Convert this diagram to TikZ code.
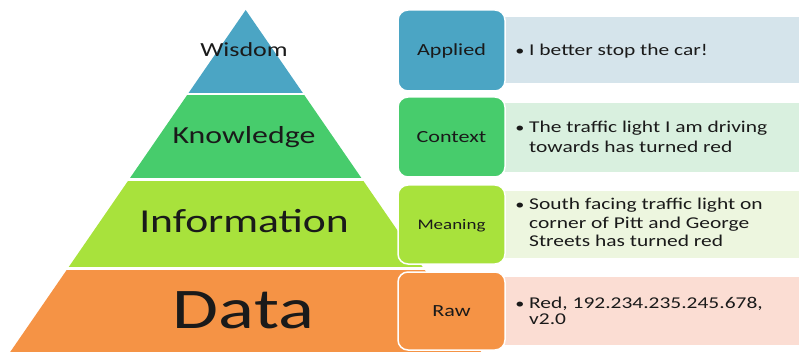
\documentclass[tikz,border=0pt]{standalone}
\usepackage{fontspec}
\setmainfont{Carlito}[FakeStretch=1.3]
\definecolor{cWis}{HTML}{4BA5C4}
\definecolor{cKno}{HTML}{47CC6C}
\definecolor{cInf}{HTML}{A8E23C}
\definecolor{cDat}{HTML}{F59345}
\definecolor{cWisL}{HTML}{D5E4EB}
\definecolor{cKnoL}{HTML}{D9F0DF}
\definecolor{cInfL}{HTML}{EDF6DF}
\definecolor{cDatL}{HTML}{FBDDD3}
\definecolor{ink}{HTML}{1A1A1A}
\begin{document}
\begin{tikzpicture}[x=1pt,y=-1pt,
  level/.style={inner sep=0pt,anchor=base,text=ink},
  tbox/.style={inner sep=0pt,anchor=north west,minimum width=299pt},
  lbox/.style={draw=white,line width=1.5pt,rounded corners=10pt,minimum width=107pt,
    inner sep=0pt,text height=10.5pt,text depth=0pt,text=ink,
    font=\fontsize{17}{20}\selectfont},
  bul/.style={inner sep=0pt,anchor=base,text=ink,font=\fontsize{14}{16}\selectfont},
  btext/.style={inner sep=0pt,anchor=base west,align=left,text=ink}]
\useasboundingbox (0,0) rectangle (799,352);
% pyramid
\begin{scope}
\clip (245.7,10) -- (10.2,352) -- (481.2,352) -- cycle;
\fill[cWis] (0,0) rectangle (799,93);
\fill[cKno] (0,95.5) rectangle (799,178);
\fill[cInf] (0,181) rectangle (799,267);
\fill[cDat] (0,270) rectangle (799,360);
\end{scope}
\node[level,font=\fontsize{20}{24}\selectfont] (wisdom) at (244,57) {Wisdom};
\node[level,font=\fontsize{24.5}{29}\selectfont] (knowledge) at (244,144) {Knowledge};
\node[level,font=\fontsize{33.5}{40}\selectfont] (information) at (244,233) {Information};
\node[level,font=\fontsize{57.5}{68}\selectfont] (data) at (243.5,328) {Data};
% text panels
\node[tbox,fill=cWisL,minimum height=66pt] (pApplied) at (500,17) {};
\node[tbox,fill=cKnoL,minimum height=69pt] (pContext) at (500,103) {};
\node[tbox,fill=cInfL,minimum height=67pt] (pMeaning) at (500,191) {};
\node[tbox,fill=cDatL,minimum height=68pt] (pRaw) at (500,277) {};
% label boxes
\node[lbox,fill=cWis,minimum height=81pt] (applied) at (451.5,50.5) {Applied};
\node[lbox,fill=cKno,minimum height=80pt] (context) at (451.5,137) {Context};
\node[lbox,fill=cInf,minimum height=79pt,text height=9.5pt,font=\fontsize{14.6}{17}\selectfont] (meaning) at (451.5,224.5) {Meaning};
\node[lbox,fill=cDat,minimum height=78pt] (raw) at (451.5,311) {Raw};
% bullets (multi-line text nodes are placed by the baseline of their last line)
\node[bul] (b1) at (520,56) {•};
\node[btext,font=\fontsize{16.5}{19}\selectfont] (t1) at (529,56) {I better stop the car!};
\node[bul] (b2) at (520,133) {•};
\node[btext,font=\fontsize{16.5}{19.5}\selectfont] (t2) at (529,152.5) {The traffic light I am driving\\towards has turned red};
\node[bul] (b3) at (520,210) {•};
\node[btext,font=\fontsize{16.5}{18.5}\selectfont] (t3) at (529,247) {South facing traffic light on\\corner of Pitt and George\\Streets has turned red};
\node[bul] (b4) at (520,308) {•};
\node[btext,font=\fontsize{16.5}{16.5}\selectfont] (t4) at (529,324.5) {Red, 192.234.235.245.678,\\v2.0};
\end{tikzpicture}
\end{document}
